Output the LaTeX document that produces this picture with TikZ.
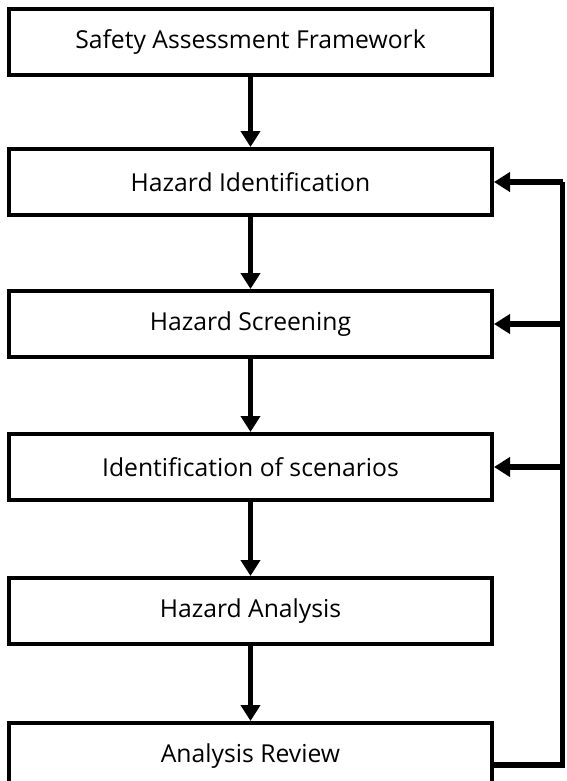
\documentclass[tikz,border=0pt]{standalone}
\usepackage{fontspec}
\setmainfont{Open Sans}
\usetikzlibrary{arrows.meta}
\tikzset{
  stepbox/.style={draw=black, line width=4pt, fill=white, minimum width=483pt,
    minimum height=66pt, inner sep=0pt, font=\fontsize{24.7}{29}\selectfont},
  flow/.style={line width=5pt, -{Triangle[length=16pt,width=19pt]}},
  fb/.style={line width=5.5pt, line join=miter}
}
\begin{document}
\begin{tikzpicture}[x=1pt,y=-1pt]
\useasboundingbox (0,0) rectangle (566,781);
\clip (0,0) rectangle (566,781);
\node[stepbox] (a) at (250.5,42) {Safety Assessment Framework};
\node[stepbox] (b) at (250.5,182) {Hazard Identification};
\node[stepbox] (c) at (250.5,324) {Hazard Screening};
\node[stepbox] (d) at (250.5,467) {Identification of scenarios};
\node[stepbox] (e) at (250.5,611) {Hazard Analysis};
\node[stepbox] (f) at (250.5,756) {Analysis Review};
\coordinate (r) at (562.5,765);
\draw[flow] (a) -- (b);
\draw[flow] (b) -- (c);
\draw[flow] (c) -- (d);
\draw[flow] (d) -- (e);
\draw[flow] (e) -- (f);
\draw[fb] (f.east |- r) -- (r) -- (r |- b.east);
\draw[flow, line width=5.5pt] (r |- b.east) -- (b.east);
\draw[flow, line width=5.5pt] (r |- c.east) -- (c.east);
\draw[flow, line width=5.5pt] (r |- d.east) -- (d.east);
\end{tikzpicture}
\end{document}
